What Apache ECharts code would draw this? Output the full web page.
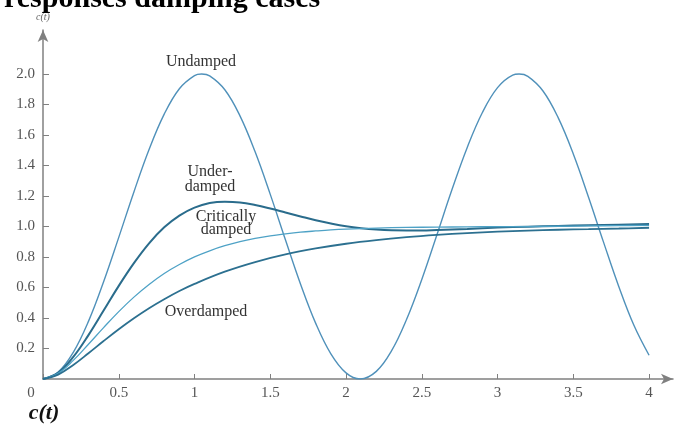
<!DOCTYPE html>
<html><head><meta charset="utf-8">
<script src="https://cdn.jsdelivr.net/npm/echarts@6/dist/echarts.min.js"></script>
<style>html,body{margin:0;padding:0;background:#fff}#c{width:676px;height:425px}</style>
</head><body><div id="c"></div>
<script>
// ---- data ----
const titleText = 'responses damping cases';
const xTicks = [0, 0.5, 1, 1.5, 2, 2.5, 3, 3.5, 4];
const xTickLabels = ['0', '0.5', '1', '1.5', '2', '2.5', '3', '3.5', '4'];
const yTicks = [0.2, 0.4, 0.6, 0.8, 1.0, 1.2, 1.4, 1.6, 1.8, 2.0];
const yTickLabels = ['0.2', '0.4', '0.6', '0.8', '1.0', '1.2', '1.4', '1.6', '1.8', '2.0'];

const undampedT = [0,0.1,0.2,0.3,0.4,0.5,0.6,0.7,0.8,0.9,1.0,1.047,1.1,1.2,1.3,1.4,1.5,1.6,1.7,1.8,1.9,2.0,2.094,2.2,2.3,2.4,2.5,2.6,2.7,2.8,2.9,3.0,3.1,3.142,3.2,3.3,3.4,3.5,3.6,3.7,3.8,3.9,4.0];
const undampedV = [0,0.045,0.175,0.378,0.638,0.929,1.227,1.505,1.737,1.904,1.990,2.000,1.988,1.897,1.726,1.490,1.211,0.913,0.622,0.365,0.165,0.040,0.000,0.050,0.184,0.392,0.653,0.946,1.244,1.519,1.748,1.911,1.993,2.000,1.985,1.889,1.714,1.476,1.194,0.896,0.607,0.352,0.156];

const underT = [0,0.1,0.2,0.3,0.4,0.5,0.6,0.7,0.8,0.9,1.0,1.1,1.2,1.3,1.4,1.5,1.6,1.7,1.8,1.9,2.0,2.1,2.2,2.3,2.4,2.5,2.6,2.8,3.0,3.2,3.4,3.6,3.8,4.0];
const underV = [0,0.041,0.145,0.288,0.449,0.611,0.760,0.890,0.995,1.072,1.124,1.154,1.163,1.158,1.141,1.118,1.092,1.066,1.041,1.020,1.002,0.989,0.980,0.975,0.974,0.974,0.977,0.984,0.993,0.999,1.004,1.008,1.012,1.016];

const critT = [0,0.1,0.2,0.3,0.4,0.5,0.6,0.7,0.8,0.9,1.0,1.1,1.2,1.3,1.4,1.5,1.6,1.7,1.8,1.9,2.0,2.2,2.4,2.6,2.8,3.0,3.2,3.4,3.6,3.8,4.0];
const critV = [0,0.037,0.122,0.228,0.337,0.442,0.537,0.620,0.692,0.751,0.801,0.841,0.874,0.901,0.922,0.939,0.952,0.963,0.971,0.978,0.983,0.990,0.994,0.996,0.998,0.999,1.000,1.002,1.004,1.006,1.008];

const overT = [0,0.1,0.2,0.3,0.4,0.5,0.6,0.7,0.8,0.9,1.0,1.2,1.4,1.6,1.8,2.0,2.2,2.4,2.6,2.8,3.0,3.2,3.4,3.6,3.8,4.0];
const overV = [0,0.029,0.092,0.169,0.249,0.326,0.398,0.464,0.523,0.577,0.624,0.704,0.767,0.817,0.856,0.887,0.911,0.930,0.945,0.957,0.966,0.973,0.979,0.983,0.987,0.992];

const curveNames = ['Undamped', 'Under-damped', 'Critically damped', 'Overdamped'];
// ---- chart ----
const pairs = (t, v) => t.map((x, i) => [x, v[i]]);
const serif = 'Liberation Serif';
const chart = echarts.init(document.getElementById('c'), null, {renderer: 'canvas'});
function line(name, t, v, color, width) {
  return {name, type: 'line', data: pairs(t, v), smooth: 0.4, showSymbol: false,
    lineStyle: {color, width}, z: 3, animation: false};
}
function note(text, x, y) {
  return {type: 'text', x, y, style: {text, font: '16px "Liberation Serif"', fill: '#333',
    align: 'center', verticalAlign: 'middle'}};
}
chart.setOption({
  backgroundColor: '#ffffff',
  animation: false,
  title: {text: titleText, left: -1, top: -21,
    textStyle: {fontFamily: serif, fontWeight: 'bold', fontSize: 30, color: '#000'}},
  grid: {left: 43, right: 3, top: 30, bottom: 46, containLabel: false},
  xAxis: {type: 'value', min: 0, max: 4.158,
    axisLine: {lineStyle: {color: '#808080', width: 1.5}, symbol: ['none', 'arrow'], symbolSize: [8, 12]},
    axisTick: {inside: true, length: 5, lineStyle: {color: '#808080'}, customValues: xTicks},
    axisLabel: {customValues: xTicks, margin: 7, fontFamily: serif, fontSize: 15, color: '#555',
      formatter: v => { const i = xTicks.indexOf(v); if (i < 0) return ''; return i === 0 ? '{z|' + xTickLabels[0] + '}' : xTickLabels[i]; },
      rich: {z: {fontFamily: serif, fontSize: 15, color: '#555', padding: [0, 24, 0, 0]}}},
    splitLine: {show: false}},
  yAxis: {type: 'value', min: 0, max: 2.289,
    name: 'c(t)', nameLocation: 'end', nameGap: 8,
    nameTextStyle: {fontFamily: serif, fontStyle: 'italic', fontSize: 10, color: '#666'},
    axisLine: {lineStyle: {color: '#808080', width: 1.5}, symbol: ['none', 'arrow'], symbolSize: [8, 12]},
    axisTick: {inside: true, length: 6, lineStyle: {color: '#808080'}, customValues: yTicks},
    axisLabel: {customValues: yTicks, margin: 8, fontFamily: serif, fontSize: 15, color: '#555',
      formatter: v => { const i = yTicks.findIndex(s => Math.abs(s - v) < 1e-6); return i >= 0 ? yTickLabels[i] : ''; }},
    splitLine: {show: false}},
  series: [
    line(curveNames[0], undampedT, undampedV, '#5091ba', 1.4),
    line(curveNames[1], underT, underV, '#2a6c8c', 2),
    line(curveNames[2], critT, critV, '#4ea2c6', 1.3),
    line(curveNames[3], overT, overV, '#2c7090', 1.8)
  ],
  graphic: [
    note('Undamped', 201, 62),
    note('Under-', 210, 172),
    note('damped', 210, 187),
    note('Critically', 226, 217),
    note('damped', 226, 230),
    note('Overdamped', 206, 312),
    {type: 'text', x: 44, y: 413, style: {text: 'c(t)', font: 'italic bold 22px "Liberation Serif"', fill: '#111',
      align: 'center', verticalAlign: 'middle'}}
  ]
});
</script></body></html>
